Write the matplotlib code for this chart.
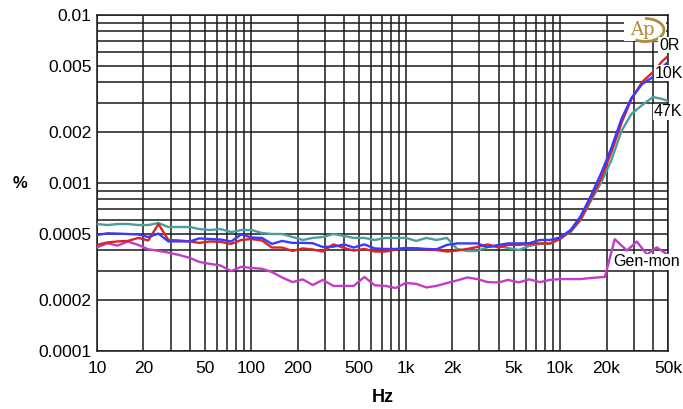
import matplotlib
matplotlib.use('Agg')
import matplotlib.pyplot as plt
from matplotlib.ticker import FixedLocator, LogLocator, NullFormatter
from matplotlib.patches import Arc, Rectangle

plt.rcParams['font.family'] = ['Liberation Sans', 'DejaVu Sans']

# frequency points (Hz)
freq = [10, 11.7, 13.6, 15.8, 18.5, 21.5, 25, 29, 34, 40, 46, 54, 63, 74, 86,
        100, 117, 136, 158, 185, 215, 250, 290, 340, 400, 460, 540, 630, 740, 860,
        1000, 1170, 1360, 1580, 1850, 2150, 2500, 2900, 3400, 4000, 4600, 5400, 6300, 7400, 8600,
        10000, 11700, 13600, 15800, 18500, 21500, 25000, 29000, 34000, 40000, 46000, 50000]

# THD+N in % for each load
thd_0r = [0.000428, 0.000443, 0.000449, 0.000452, 0.000471, 0.000455, 0.000570, 0.000458, 0.000455, 0.000449,
          0.000440, 0.000449, 0.000446, 0.000434, 0.000458, 0.000464, 0.000455, 0.000413, 0.000413, 0.000394,
          0.000408, 0.000402, 0.000391, 0.000431, 0.000410, 0.000396, 0.000405, 0.000391, 0.000391, 0.000402,
          0.000409, 0.000408, 0.000402, 0.000399, 0.000391, 0.000396, 0.000405, 0.000416, 0.000431, 0.000413,
          0.000428, 0.000428, 0.000434, 0.000437, 0.000437, 0.000464, 0.000518, 0.000610, 0.000800, 0.00107,
          0.00153, 0.00228, 0.00316, 0.00399, 0.00458, 0.00532, 0.00570]
thd_10k = [0.000490, 0.000502, 0.000500, 0.000497, 0.000494, 0.000477, 0.000500, 0.000449, 0.000449, 0.000449,
           0.000468, 0.000464, 0.000461, 0.000449, 0.000494, 0.000474, 0.000471, 0.000434, 0.000452, 0.000440,
           0.000440, 0.000438, 0.000416, 0.000418, 0.000431, 0.000413, 0.000431, 0.000408, 0.000405, 0.000405,
           0.000410, 0.000408, 0.000405, 0.000403, 0.000428, 0.000437, 0.000437, 0.000437, 0.000416, 0.000428,
           0.000437, 0.000437, 0.000438, 0.000458, 0.000458, 0.000474, 0.000525, 0.000636, 0.000837, 0.00115,
           0.00162, 0.00241, 0.00321, 0.00388, 0.00428, 0.00490, 0.00525]
thd_47k = [0.000570, 0.000562, 0.000570, 0.000570, 0.000562, 0.000562, 0.000578, 0.000547, 0.000547, 0.000547,
           0.000532, 0.000525, 0.000532, 0.000511, 0.000525, 0.000525, 0.000504, 0.000497, 0.000497, 0.000477,
           0.000458, 0.000471, 0.000477, 0.000497, 0.000484, 0.000471, 0.000471, 0.000458, 0.000471, 0.000471,
           0.000471, 0.000452, 0.000471, 0.000458, 0.000471, 0.000405, 0.000394, 0.000394, 0.000416, 0.000422,
           0.000410, 0.000399, 0.000422, 0.000434, 0.000434, 0.000471, 0.000511, 0.000602, 0.000781, 0.00101,
           0.00137, 0.00204, 0.00258, 0.00291, 0.00325, 0.00316, 0.00308]

# generator monitor: shared points up to 18.5k, then its own points
gen_lo = [0.000414, 0.000438, 0.000424, 0.000448, 0.000428, 0.000403, 0.000395, 0.000385, 0.000373, 0.000358,
          0.000339, 0.000330, 0.000323, 0.000299, 0.000317, 0.000312, 0.000309, 0.000295, 0.000274, 0.000257,
          0.000267, 0.000247, 0.000265, 0.000244, 0.000244, 0.000244, 0.000276, 0.000246, 0.000244, 0.000237,
          0.000254, 0.000251, 0.000239, 0.000244, 0.000254, 0.000263, 0.000274, 0.000268, 0.000257, 0.000256,
          0.000265, 0.000256, 0.000267, 0.000257, 0.000265, 0.000268, 0.000268, 0.000268, 0.000272]
gen_hi_freq = [19500, 22600, 27100, 31400, 36500, 42300, 50000]
gen_hi = [0.000276, 0.000463, 0.000396, 0.000448, 0.000376, 0.000414, 0.000373]

x_ticks = [10, 20, 50, 100, 200, 500, 1000, 2000, 5000, 10000, 20000, 50000]
x_labels = ['10', '20', '50', '100', '200', '500', '1k', '2k', '5k', '10k', '20k', '50k']
y_ticks = [0.0001, 0.0002, 0.0005, 0.001, 0.002, 0.005, 0.01]
y_labels = ['0.0001', '0.0002', '0.0005', '0.001', '0.002', '0.005', '0.01']

fig = plt.figure(figsize=(6.83, 4.09), dpi=100)
ax = fig.add_axes([97 / 683, 1 - 351 / 409, 571 / 683, 336 / 409])
ax.set_xscale('log')
ax.set_yscale('log')
ax.set_xlim(10, 50000)
ax.set_ylim(0.0001, 0.01)

gen_freq = freq[:len(gen_lo)] + gen_hi_freq
ax.plot(freq, thd_47k, color='#4a9e9e', lw=1.7, zorder=3)
ax.plot(gen_freq, gen_lo + gen_hi, color='#c23cc8', lw=1.7, zorder=3)
ax.plot(freq, thd_0r, color='#dd2222', lw=1.7, zorder=4)
ax.plot(freq, thd_10k, color='#3a3aff', lw=1.7, zorder=5)

ax.xaxis.set_major_locator(FixedLocator(x_ticks))
ax.set_xticklabels(x_labels)
ax.xaxis.set_minor_locator(LogLocator(base=10, subs=range(1, 10), numticks=20))
ax.xaxis.set_minor_formatter(NullFormatter())
ax.yaxis.set_major_locator(FixedLocator(y_ticks))
ax.set_yticklabels(y_labels)
ax.yaxis.set_minor_locator(LogLocator(base=10, subs=range(1, 10), numticks=20))
ax.yaxis.set_minor_formatter(NullFormatter())

ax.grid(True, which='both', color='#1a1a1a', lw=1.1)
ax.set_axisbelow(True)
ax.tick_params(which='both', length=0)
ax.tick_params(axis='x', pad=7, labelsize=12.5)
ax.tick_params(axis='y', pad=4, labelsize=12.5)
for s in ax.spines.values():
    s.set_color('#1a1a1a')
    s.set_linewidth(1.1)

# Ap logo (white patch behind it hides the grid)
fig.add_artist(Rectangle((624 / 683, 1 - 41 / 409), 42 / 683, 25 / 409, transform=fig.transFigure,
                         facecolor='white', edgecolor='none', zorder=5))
fig.text(642 / 683, 1 - 30 / 409, 'Ap', fontsize=13, color='#b08a3a', family='DejaVu Serif',
         ha='center', va='center', zorder=6)
fig.add_artist(Arc((645 / 683, 1 - 30 / 409), 38 / 683, 23 / 409, theta1=-120, theta2=90,
                   transform=fig.transFigure, color='#b08a3a', lw=2.0, zorder=6))

# curve labels
box = dict(facecolor='white', edgecolor='none', pad=0.5)
lab = dict(fontsize=11.5, va='center', ha='left', bbox=box, zorder=7)
fig.text(659 / 683, 1 - 45 / 409, '0R', **lab)
fig.text(655 / 683, 1 - 73 / 409, '10K', **lab)
fig.text(654 / 683, 1 - 112 / 409, '47K', **lab)
fig.text(613 / 683, 1 - 262 / 409, 'Gen-mon', **lab)

fig.text(20 / 683, 1 - 183 / 409, '%', fontsize=12, fontweight='bold', ha='center', va='center')
fig.text(383 / 683, 1 - 397 / 409, 'Hz', fontsize=13, fontweight='bold', ha='center', va='center')

fig.savefig('out.png', dpi=100)
